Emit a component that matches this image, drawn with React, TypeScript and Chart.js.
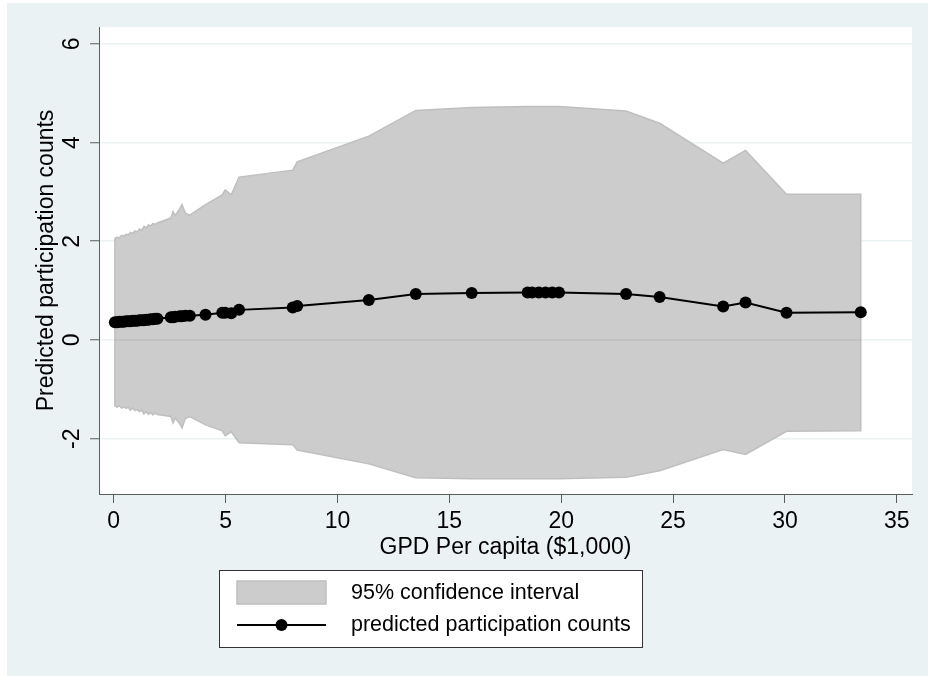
import React, { useEffect, useRef } from "react";
import { Chart, registerables } from "chart.js";

Chart.register(...registerables);

// GDP per capita ($1,000) for each observation
const gdp = [
  0.05, 0.15, 0.25, 0.35, 0.45, 0.55, 0.65, 0.75, 0.85, 0.95,
  1.05, 1.15, 1.25, 1.35, 1.45, 1.55, 1.65, 1.75, 1.85, 1.95,
  2.55, 2.65, 2.75, 2.95, 3.05, 3.2, 3.4, 4.1, 4.85, 4.98,
  5.25, 5.6, 8.0, 8.2, 11.4, 13.5, 16.0, 18.5, 18.7, 19.0,
  19.3, 19.6, 19.9, 22.9, 24.4, 27.24, 28.24, 30.07, 33.39,
];

// Predicted participation counts
const predicted = [
  0.36, 0.36, 0.37, 0.37, 0.37, 0.38, 0.38, 0.38, 0.39, 0.39,
  0.39, 0.4, 0.4, 0.4, 0.41, 0.41, 0.42, 0.42, 0.43, 0.43,
  0.46, 0.46, 0.47, 0.48, 0.48, 0.49, 0.49, 0.51, 0.55, 0.55,
  0.54, 0.61, 0.66, 0.69, 0.81, 0.93, 0.95, 0.96, 0.96, 0.96,
  0.96, 0.96, 0.96, 0.93, 0.87, 0.68, 0.76, 0.55, 0.56,
];

// Upper bound of the 95% confidence interval
const ciUpper = [
  2.06, 2.08, 2.07, 2.12, 2.1, 2.14, 2.13, 2.18, 2.16, 2.21,
  2.19, 2.25, 2.22, 2.3, 2.27, 2.33, 2.31, 2.36, 2.34, 2.37,
  2.47, 2.6, 2.52, 2.66, 2.74, 2.57, 2.53, 2.74, 2.94, 3.04,
  2.94, 3.3, 3.44, 3.61, 4.13, 4.65, 4.71, 4.73, 4.73, 4.73,
  4.73, 4.73, 4.73, 4.64, 4.39, 3.58, 3.84, 2.95, 2.95,
];

// Lower bound of the 95% confidence interval
const ciLower = [
  -1.34, -1.36, -1.33, -1.38, -1.36, -1.38, -1.37, -1.42, -1.38, -1.43,
  -1.41, -1.45, -1.42, -1.5, -1.45, -1.51, -1.47, -1.52, -1.48, -1.51,
  -1.55, -1.68, -1.58, -1.7, -1.78, -1.59, -1.55, -1.72, -1.84, -1.94,
  -1.86, -2.08, -2.12, -2.23, -2.51, -2.79, -2.81, -2.81, -2.81, -2.81,
  -2.81, -2.81, -2.81, -2.78, -2.65, -2.22, -2.32, -1.85, -1.84,
];

const xTicks = [0, 5, 10, 15, 20, 25, 30, 35];
const yTicks = [-2, 0, 2, 4, 6];

const xTitle = "GPD Per capita ($1,000)";
const yTitle = "Predicted participation counts";
const legendLabels = ["95% confidence interval", "predicted participation counts"];

const FONT = "'Liberation Sans', Arial, sans-serif";
const BG = "#eaf2f3";
const AXIS = "#5c5c5c";
const CI_FILL = "#cccccc";
const CI_EDGE = "#bfbfbf";

export default function App() {
  const ref = useRef<HTMLCanvasElement>(null);

  useEffect(() => {
    const canvas = ref.current;
    if (!canvas) return;

    const linePts = gdp.map((x, i) => ({ x, y: predicted[i] }));
    const upperPts = gdp.map((x, i) => ({ x, y: ciUpper[i] }));
    const lowerPts = gdp.map((x, i) => ({ x, y: ciLower[i] })).reverse();
    const band = [...upperPts, ...lowerPts, upperPts[0]];

    const bgPlugin = {
      id: "bgPlugin",
      beforeDraw(chart: any) {
        const { ctx, chartArea: a } = chart;
        ctx.save();
        ctx.fillStyle = "#ffffff";
        ctx.fillRect(0, 0, chart.width, chart.height);
        ctx.fillStyle = BG;
        ctx.fillRect(7, 3, chart.width - 7, chart.height - 3);
        ctx.fillStyle = "#ffffff";
        ctx.fillRect(a.left, a.top, a.right - a.left, a.bottom - a.top);
        ctx.restore();
      },
    };

    const zeroLinePlugin = {
      id: "zeroLine",
      beforeDatasetDraw(chart: any, args: any) {
        if (args.index !== 0) return;
        const { ctx, scales } = chart;
        const y = scales.y.getPixelForValue(0);
        const x0 = scales.x.getPixelForValue(gdp[0]);
        const x1 = scales.x.getPixelForValue(gdp[gdp.length - 1]);
        ctx.save();
        ctx.strokeStyle = "rgba(0,0,0,0.05)";
        ctx.lineWidth = 2;
        ctx.beginPath();
        ctx.moveTo(x0, y);
        ctx.lineTo(x1, y);
        ctx.stroke();
        ctx.restore();
      },
    };

    const legendPlugin = {
      id: "boxLegend",
      afterDraw(chart: any) {
        const { ctx } = chart;
        ctx.save();
        ctx.fillStyle = "#ffffff";
        ctx.fillRect(219.5, 570.5, 423, 77);
        ctx.strokeStyle = "#333333";
        ctx.lineWidth = 1;
        ctx.strokeRect(219.5, 570.5, 423, 77);

        ctx.fillStyle = CI_FILL;
        ctx.fillRect(237, 581, 89, 23);
        ctx.strokeStyle = CI_EDGE;
        ctx.lineWidth = 1.5;
        ctx.strokeRect(237, 581, 89, 23);

        ctx.strokeStyle = "#000000";
        ctx.lineWidth = 2;
        ctx.beginPath();
        ctx.moveTo(237, 625);
        ctx.lineTo(326, 625);
        ctx.stroke();
        ctx.fillStyle = "#000000";
        ctx.beginPath();
        ctx.arc(281.5, 625, 6, 0, Math.PI * 2);
        ctx.fill();

        ctx.font = `21.5px ${FONT}`;
        ctx.textBaseline = "middle";
        ctx.textAlign = "left";
        ctx.fillText(legendLabels[0], 351, 593);
        ctx.fillText(legendLabels[1], 351, 625);
        ctx.restore();
      },
    };

    const chart = new Chart(canvas, {
      type: "line",
      data: {
        datasets: [
          {
            label: legendLabels[1],
            data: linePts,
            borderColor: "#000000",
            backgroundColor: "#000000",
            borderWidth: 2,
            pointRadius: 6,
            pointBorderWidth: 0,
            pointBackgroundColor: "#000000",
            fill: false,
            tension: 0,
          },
          {
            label: legendLabels[0],
            data: band,
            borderColor: CI_EDGE,
            backgroundColor: CI_FILL,
            borderWidth: 1.5,
            pointRadius: 0,
            fill: "shape",
            tension: 0,
          },
        ],
      },
      options: {
        animation: false,
        responsive: false,
        devicePixelRatio: 1,
        layout: { padding: { left: 0, top: 27, right: 16, bottom: 102 } },
        plugins: {
          legend: { display: false },
          tooltip: { enabled: false },
        },
        scales: {
          x: {
            type: "linear",
            min: -0.66,
            max: 35.68,
            afterBuildTicks: (s: any) => {
              s.ticks = xTicks.map((v) => ({ value: v }));
            },
            afterFit: (s: any) => {
              s.height = 80;
            },
            grid: {
              drawOnChartArea: false,
              tickLength: 9,
              tickColor: AXIS,
              tickWidth: 1,
            },
            border: { color: AXIS, width: 1 },
            ticks: {
              font: { family: FONT, size: 23 },
              color: "#000000",
              padding: 5,
              maxRotation: 0,
              minRotation: 0,
            },
            title: {
              display: true,
              text: xTitle,
              font: { family: FONT, size: 23 },
              color: "#000000",
              padding: { top: 0, bottom: 13 },
            },
          },
          y: {
            type: "linear",
            min: -3.12,
            max: 6.34,
            afterBuildTicks: (s: any) => {
              s.ticks = yTicks.map((v) => ({ value: v }));
            },
            afterFit: (s: any) => {
              s.width = 99;
            },
            grid: {
              color: BG,
              lineWidth: 1.5,
              tickLength: 9,
              tickColor: AXIS,
              tickWidth: 1,
            },
            border: { color: AXIS, width: 1 },
            ticks: {
              font: { family: FONT, size: 23 },
              color: "#000000",
              padding: 7,
              minRotation: 90,
              maxRotation: 90,
              crossAlign: "center",
            },
            title: {
              display: true,
              text: yTitle,
              font: { family: FONT, size: 23 },
              color: "#000000",
              padding: { top: 33, bottom: 0 },
            },
          },
        },
      },
      plugins: [bgPlugin, zeroLinePlugin, legendPlugin],
    } as any);

    return () => chart.destroy();
  }, []);

  return (
    <canvas
      ref={ref}
      width={928}
      height={676}
      style={{ position: "fixed", left: 0, top: 0, width: 928, height: 676, display: "block" }}
    />
  );
}
